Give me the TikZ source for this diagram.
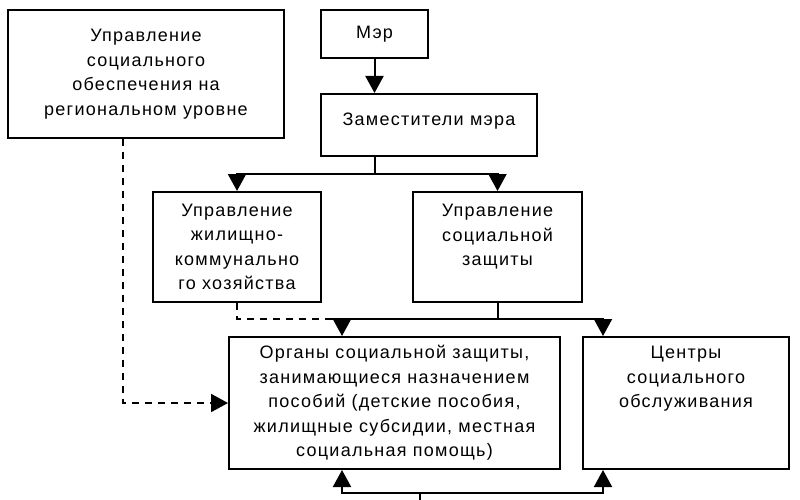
\documentclass[tikz,border=0pt]{standalone}
\usepackage{fontspec}
\setmainfont{Liberation Sans}[LetterSpace=7]
\usetikzlibrary{positioning,calc,arrows.meta}

\begin{document}
\begin{tikzpicture}[x=1pt,y=-1pt,
    boxtext/.style={align=center, inner sep=0pt, font=\fontsize{18}{24.5}\selectfont},
    box/.style={boxtext, draw, line width=2pt},
    line/.style={line width=2pt},
    link/.style={line, -{Triangle[length=17pt,width=18pt]}},
    dash link/.style={link, dash pattern=on 7pt off 6pt}]
    \useasboundingbox (0,0) rectangle (800,500);

    % Top level
    \node[box, minimum width=276, minimum height=128] (region) at (146,74) {Управление\\социального\\обеспечения на\\региональном уровне};
    \node[box, minimum width=107, minimum height=48] (mayor) at (374.5,34) {Мэр};
    \node[box, minimum width=216, minimum height=62] (deputies) at (429,125) {};
    \node[boxtext] (deputies text) at ([yshift=4]deputies.center) {Заместители мэра};

    % Departments
    \node[box, minimum width=168, minimum height=110] (housing) at (237,247) {Управление\\жилищно-\\коммунально\\го хозяйства};
    \node[box, minimum width=169, minimum height=110] (social) at (497.5,247) {};
    \node[boxtext] (social text) at ([yshift=10]social.center) {Управление\\социальной\\защиты};

    % Bodies
    \node[box, minimum width=331, minimum height=132] (organs) at (394.5,403) {Органы социальной защиты,\\занимающиеся назначением\\пособий (детские пособия,\\жилищные субсидии, местная\\социальная помощь)};
    \node[box, minimum width=206, minimum height=132] (centres) at (686,403) {};
    \node[boxtext, anchor=north] (centres text) at ([yshift=-10]centres.north) {Центры\\социального\\обслуживания};

    % Mayor and deputies
    \draw[link] (mayor.south) -- (mayor.south |- deputies.north);
    \coordinate (split) at ($(mayor.south |- deputies.south)+(0,17)$);
    \draw[line] (mayor.south |- deputies.south) -- (split);
    \draw[link] (split) -| (housing.north);
    \draw[link] (split) -| (social.north);

    % Departments to bodies
    \coordinate (fork) at ($(social.south)+(0,16)$);
    \coordinate (organs in) at ([xshift=114]organs.north west);
    \coordinate (centres in) at ([xshift=21]centres.north west);
    \coordinate (joint) at ([xshift=-11]organs in |- fork);
    \draw[line] (social.south) -- (fork);
    \draw[line] (joint) -- (fork);
    \draw[link] (fork) -| (organs in);
    \draw[link] (fork) -| (centres in);
    \draw[line, dash pattern=on 7pt off 6pt] (housing.south) |- (joint);

    % Regional office (dashed)
    \draw[dash link] ([xshift=-23]region.south) |- (organs.west);

    % Feed from below
    \coordinate (base) at (420,500);
    \coordinate (bottom) at (420,493);
    \draw[line] (base) -- (bottom);
    \draw[link] (bottom) -| ([xshift=114]organs.south west);
    \draw[link] (bottom) -| ([xshift=21]centres.south west);
\end{tikzpicture}
\end{document}
